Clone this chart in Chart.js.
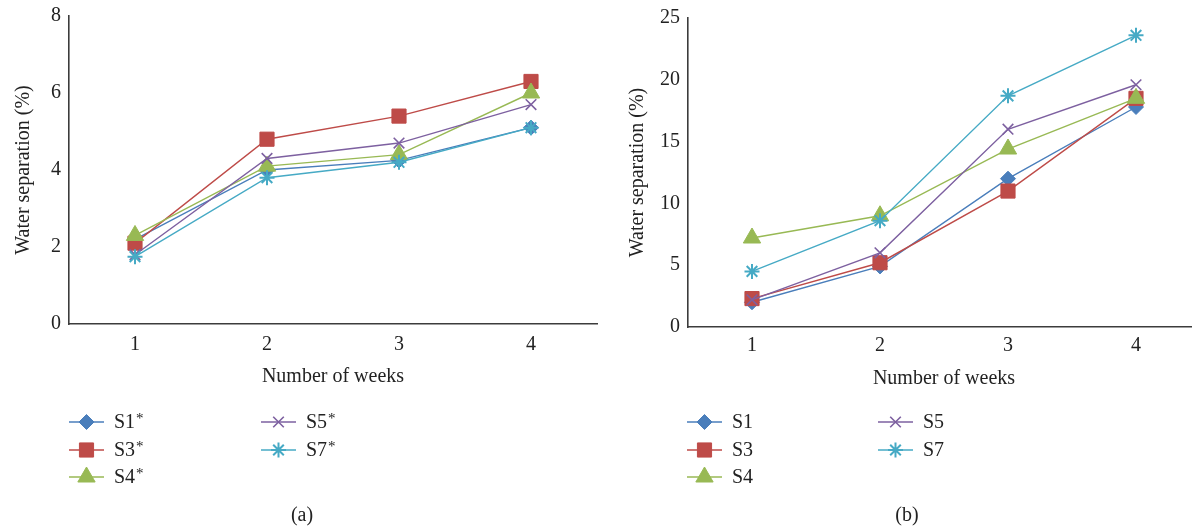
<!DOCTYPE html>
<html>
<head>
<meta charset="utf-8">
<script src="https://cdn.jsdelivr.net/npm/chart.js@4.4.0/dist/chart.umd.min.js"></script>
<style>
  html, body { margin: 0; padding: 0; background: #fff; }
  body { width: 1192px; height: 529px; position: relative; overflow: hidden; }
  .box { position: absolute; top: 0; height: 529px; }
  #boxA { left: 0; width: 600px; }
  #boxB { left: 596px; width: 604px; }
  .cap { position: absolute; top: 503px; width: 100px; text-align: center;
         font: 20px 'Liberation Serif', serif; color: #222; }
</style>
</head>
<body>
<div class="box" id="boxA"><canvas id="chartA"></canvas></div>
<div class="box" id="boxB"><canvas id="chartB"></canvas></div>
<div class="cap" style="left:252px">(a)</div>
<div class="cap" style="left:857px">(b)</div>
<script>
// categories
const weeks = ['1', '2', '3', '4'];

// series names
const namesA = ['S1*', 'S3*', 'S4*', 'S5*', 'S7*'];
const namesB = ['S1', 'S3', 'S4', 'S5', 'S7'];

// panel (a) values, water separation %
const a_s1 = [2.2, 4.0, 4.25, 5.1];
const a_s3 = [2.1, 4.8, 5.4, 6.3];
const a_s4 = [2.3, 4.1, 4.4, 6.0];
const a_s5 = [1.8, 4.3, 4.7, 5.7];
const a_s7 = [1.75, 3.8, 4.2, 5.1];

// panel (b) values
const b_s1 = [2.0, 4.9, 12.0, 17.8];
const b_s3 = [2.3, 5.2, 11.0, 18.5];
const b_s4 = [7.2, 9.0, 14.4, 18.5];
const b_s5 = [2.2, 6.0, 16.0, 19.6];
const b_s7 = [4.5, 8.6, 18.7, 23.6];

const FONT = "'Liberation Serif', 'Times New Roman', serif";
const TEXT = '#222';
const AXIS = '#3c3c3c';

const styles = [
    { color: '#4a7ebb', point: 'rectRot', r: 7.5, bw: 1 },
    { color: '#be4b48', point: 'rect', r: 10, bw: 1 },
    { color: '#98b954', point: 'triangle', r: 10, bw: 1 },
    { color: '#7d60a0', point: 'crossRot', r: 7.5, bw: 1.6 },
    { color: '#46aac5', point: 'star', r: 7.5, bw: 2 },
];

function buildDatasets(names, series) {
    return series.map((vals, i) => ({
        label: names[i],
        data: vals,
        borderColor: styles[i].color,
        backgroundColor: styles[i].color,
        borderWidth: 1.4,
        pointStyle: styles[i].point,
        pointRadius: styles[i].r,
        pointHoverRadius: styles[i].r,
        pointBorderWidth: styles[i].bw,
        tension: 0,
        order: series.length - i,
    }));
}

const legendPlugin = (cols) => ({
    id: 'bottomLegend',
    afterDraw(chart) {
        const ctx = chart.ctx;
        const rows = [422, 450, 477];
        chart.data.datasets.forEach((ds, i) => {
            const col = i < 3 ? 0 : 1;
            const y = rows[i < 3 ? i : i - 3];
            const x0 = cols[col];
            ctx.save();
            ctx.strokeStyle = ds.borderColor;
            ctx.lineWidth = 1.5;
            ctx.beginPath();
            ctx.moveTo(x0, y);
            ctx.lineTo(x0 + 35, y);
            ctx.stroke();
            ctx.fillStyle = ds.backgroundColor;
            ctx.strokeStyle = ds.borderColor;
            ctx.lineWidth = ds.pointBorderWidth;
            Chart.helpers.drawPoint(ctx, {
                pointStyle: ds.pointStyle,
                radius: ds.pointRadius,
                rotation: 0,
                borderWidth: ds.pointBorderWidth,
            }, x0 + 17.5, y);
            let txt = ds.label;
            const sup = txt.endsWith('*');
            if (sup) txt = txt.slice(0, -1);
            ctx.fillStyle = TEXT;
            ctx.font = '20px ' + FONT;
            ctx.textBaseline = 'middle';
            ctx.textAlign = 'left';
            ctx.fillText(txt, x0 + 45, y + 1);
            if (sup) {
                const w = ctx.measureText(txt).width;
                ctx.font = '15px ' + FONT;
                ctx.fillText('*', x0 + 46 + w, y - 3);
            }
            ctx.restore();
        });
    },
});

function makeChart(id, names, series, yMax, yStep, g) {
    return new Chart(document.getElementById(id), {
        type: 'line',
        data: { labels: weeks, datasets: buildDatasets(names, series) },
        options: {
            responsive: true,
            maintainAspectRatio: false,
            animation: false,
            events: [],
            layout: {
                autoPadding: false,
                padding: { left: 0, right: g.padRight, top: g.padTop, bottom: g.padBottom },
            },
            plugins: { legend: { display: false }, tooltip: { enabled: false } },
            scales: {
                x: {
                    offset: true,
                    grid: { display: false, drawTicks: false },
                    border: { display: true, color: AXIS, width: 1.6 },
                    ticks: { color: TEXT, font: { family: FONT, size: 20 }, padding: g.xTickPad },
                    title: { display: true, text: 'Number of weeks', color: TEXT,
                             font: { family: FONT, size: 20 }, padding: { top: 0, bottom: 0 } },
                    afterFit(scale) {
                        scale.height = g.xHeight;
                        scale.paddingLeft = 0;
                        scale.paddingRight = 0;
                    },
                },
                y: {
                    min: 0,
                    max: yMax,
                    grid: { display: false, drawTicks: false },
                    border: { display: true, color: AXIS, width: 1.6 },
                    ticks: { stepSize: yStep, color: TEXT, font: { family: FONT, size: 20 }, padding: g.yTickPad },
                    title: { display: true, text: 'Water separation (%)', color: TEXT,
                             font: { family: FONT, size: 20 }, padding: { top: g.yTitlePad, bottom: 0 } },
                    afterFit(scale) {
                        scale.width = g.yWidth;
                        scale.paddingTop = 0;
                        scale.paddingBottom = 0;
                    },
                },
            },
        },
        plugins: [legendPlugin(g.legendCols)],
    });
}

makeChart('chartA', namesA, [a_s1, a_s3, a_s4, a_s5, a_s7], 8, 2, {
    padRight: 3, padTop: 16, padBottom: 140, xHeight: 65, xTickPad: 9,
    yWidth: 69, yTickPad: 8, yTitlePad: 12, legendCols: [69, 261],
});

makeChart('chartB', namesB, [b_s1, b_s3, b_s4, b_s5, b_s7], 25, 5, {
    padRight: 0, padTop: 18, padBottom: 138, xHeight: 64, xTickPad: 7,
    yWidth: 92, yTickPad: 8, yTitlePad: 30, legendCols: [91, 282],
});
</script>
</body>
</html>
